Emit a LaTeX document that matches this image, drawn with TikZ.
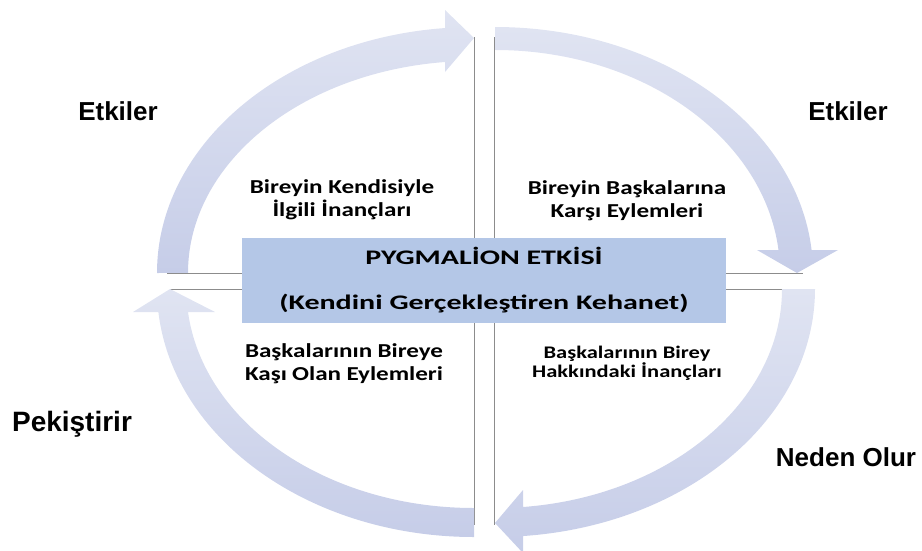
\documentclass[tikz,border=0pt]{standalone}
\usepackage{fontspec}
\setmainfont{Liberation Sans}
\newfontfamily\labelfont{Liberation Sans}
\newfontfamily\quadfont[FakeStretch=1.27]{Carlito}
\newfontfamily\titlefont[FakeStretch=1.45]{Carlito}
\definecolor{arrowlight}{RGB}{224,228,242}
\definecolor{arrowdark}{RGB}{198,205,232}
\definecolor{boxblue}{RGB}{180,199,231}
\definecolor{rulegray}{RGB}{140,140,140}

\begin{document}
\begin{tikzpicture}[x=1pt,y=-1pt,
  cyclearrow/.style={top color=arrowlight, bottom color=arrowdark, draw=none},
  frameline/.style={draw=rulegray, line width=0.9pt},
  sidelabel/.style={font=\labelfont\bfseries\fontsize{26}{30}\selectfont, inner sep=0pt},
  quadtext/.style={font=\quadfont\bfseries\fontsize{19.75}{23}\selectfont, align=center, inner sep=0pt},
  quadsmall/.style={font=\quadfont\bfseries\fontsize{17.7}{17.5}\selectfont, align=center, inner sep=0pt},
  titlebox/.style={rectangle, fill=boxblue, draw=none, minimum width=484pt, minimum height=85pt,
    inner sep=0pt, align=center, font=\titlefont\bfseries\fontsize{20.7}{45}\selectfont}
]
\useasboundingbox (0,0) rectangle (922,550);

% quadrant frame
\coordinate (vl-top) at (474.5,37);
\coordinate (vl-bot) at (474.5,525);
\coordinate (vr-top) at (494.5,37);
\coordinate (vr-bot) at (494.5,525);
\coordinate (ht-left) at (167,273);
\coordinate (ht-right) at (803,273);
\coordinate (hb-left) at (170,289);
\coordinate (hb-right) at (803,289);
\draw[frameline] (vl-top) -- (vl-bot);
\draw[frameline] (vr-top) -- (vr-bot);
\draw[frameline] (ht-left) -- (ht-right);
\draw[frameline] (hb-left) -- (hb-right);

% upper left: rising arc, head pointing right
\path[cyclearrow] (157,273)
  arc[start angle=180, end angle=264.75, x radius=317, y radius=246]
  -- (445,10) -- (474,38) -- (445,72) -- (445,62)
  arc[start angle=264.18, end angle=180, x radius=286, y radius=212] -- cycle;

% upper right: falling arc, head pointing down
\path[cyclearrow] (495,27)
  arc[start angle=270, end angle=354.64, x radius=318, y radius=246]
  -- (838,250) -- (797,273) -- (757,250) -- (778.5,250)
  arc[start angle=354.08, end angle=270, x radius=285, y radius=223] -- cycle;

% lower right: arc towards the bottom, head pointing left
\path[cyclearrow] (815,289)
  arc[start angle=0, end angle=84.98, x radius=320, y radius=248]
  -- (523,553) -- (495,523) -- (523,490) -- (523,507)
  arc[start angle=84.40, end angle=0, x radius=287, y radius=219] -- cycle;

% lower left: arc back up, head pointing up
\path[cyclearrow] (474,537)
  arc[start angle=90, end angle=174.68, x radius=317, y radius=248]
  -- (133,312) -- (170,289) -- (215,312) -- (188,312)
  arc[start angle=173.97, end angle=90, x radius=287.6, y radius=219] -- cycle;

% centre box
\node[titlebox] (centre) at (484,280.5) {PYGMAL\.{I}ON ETK\.{I}S\.{I}\\(Kendini Gerçekleştiren Kehanet)};

% quadrant texts
\node[quadtext] (tl) at (342,200) {Bireyin Kendisiyle\\\.{I}lgili \.{I}nançları};
\node[quadtext] (tr) at (627,201) {Bireyin Başkalarına\\Karşı Eylemleri};
\node[quadtext, align=left] (bl) at (344,363.5)
  {\makebox[198pt][s]{Başkalarının Bireye}\\\makebox[198pt][s]{Kaşı Olan Eylemleri}};
\node[quadsmall] (br) at (627,363.5) {Başkalarının Birey\\Hakkındaki \.{I}nançları};

% side labels
\node[sidelabel] (lab-tl) at (118,111) {Etkiler};
\node[sidelabel] (lab-tr) at (848,111) {Etkiler};
\node[sidelabel, font=\labelfont\bfseries\fontsize{28}{32}\selectfont] (lab-bl) at (72,424) {Pekiştirir};
\node[sidelabel] (lab-br) at (846,457) {Neden Olur};
\end{tikzpicture}
\end{document}
